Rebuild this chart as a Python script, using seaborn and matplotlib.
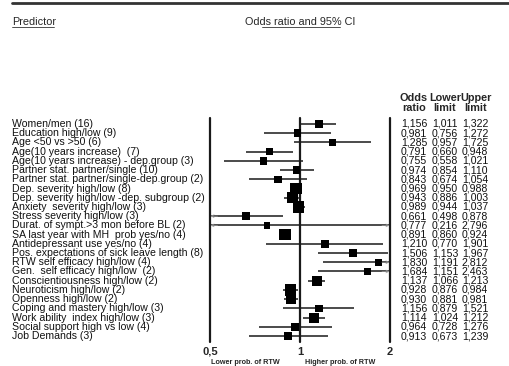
import numpy as np
import pandas as pd
import matplotlib
matplotlib.use("Agg")
import matplotlib.pyplot as plt
import matplotlib.transforms as mtransforms
import seaborn as sns

predictors = [
    "Women/men (16)",
    "Education high/low (9)",
    "Age <50 vs >50 (6)",
    "Age(10 years increase)  (7)",
    "Age(10 years increase) - dep.group (3)",
    "Partner stat. partner/single (10)",
    "Partner stat. partner/single-dep.group (2)",
    "Dep. severity high/low (8)",
    "Dep. severity high/low -dep. subgroup (2)",
    "Anxiety  severity high/low (3)",
    "Stress severity high/low (3)",
    "Durat. of sympt.>3 mon before BL (2)",
    "SA last year with MH  prob yes/no (4)",
    "Antidepressant use yes/no (4)",
    "Pos. expectations of sick leave length (8)",
    "RTW self efficacy high/low (4)",
    "Gen.  self efficacy high/low  (2)",
    "Conscientiousness high/low (2)",
    "Neuroticism high/low (2)",
    "Openness high/low (2)",
    "Coping and mastery high/low (3)",
    "Work ability  index high/low (3)",
    "Social support high vs low (4)",
    "Job Demands (3)",
]
odds_ratio = [1.156, 0.981, 1.285, 0.791, 0.755, 0.974, 0.843, 0.969, 0.943, 0.989,
              0.661, 0.777, 0.891, 1.210, 1.506, 1.830, 1.684, 1.137, 0.928, 0.930,
              1.156, 1.114, 0.964, 0.913]
lower_limit = [1.011, 0.756, 0.957, 0.660, 0.558, 0.854, 0.674, 0.950, 0.886, 0.944,
               0.498, 0.216, 0.860, 0.770, 1.153, 1.191, 1.151, 1.066, 0.876, 0.881,
               0.879, 1.024, 0.728, 0.673]
upper_limit = [1.322, 1.272, 1.725, 0.948, 1.021, 1.110, 1.054, 0.988, 1.003, 1.037,
               0.878, 2.796, 0.924, 1.901, 1.967, 2.812, 2.463, 1.213, 0.984, 0.981,
               1.521, 1.212, 1.276, 1.239]
# relative weight (square side)
weight = [6, 6, 6, 6, 6, 6, 6, 9, 9, 9, 6, 5, 9, 6, 6, 6, 6, 8, 9, 8, 6, 8, 6, 6]
tick_values = [0.5, 1, 2]
tick_labels = ["0,5", "1", "2"]

df = pd.DataFrame({"predictor": predictors, "or": odds_ratio,
                   "lo": lower_limit, "hi": upper_limit, "w": weight})
df["row"] = np.arange(len(df))
df["area"] = (df["w"] * 0.72 * 1.25) ** 2

sns.set_theme(style="white")
plt.rcParams["font.family"] = ["Liberation Sans", "DejaVu Sans"]

W, H = 509, 366
fig = plt.figure(figsize=(W / 100, H / 100), dpi=100)

def fx(px):
    return px / W

def fy(py):
    return 1 - py / H

x0, x1 = 210, 390
ytop, ybot = 118, 342
row0, rowstep = 124, (336 - 124) / 23
ax = fig.add_axes([fx(x0), fy(ybot), (x1 - x0) / W, (ybot - ytop) / H])
ax.set_xscale("log")
ax.set_xlim(0.5, 2)
ax.set_ylim((ybot - row0) / rowstep, (ytop - row0) / rowstep)
ax.axis("off")

lc = "#1a1a1a"
for v in tick_values:
    ax.axvline(v, color=lc, lw=1.6, clip_on=False)

lo_c = df["lo"].clip(lower=0.5)
hi_c = df["hi"].clip(upper=2)
ax.hlines(df["row"], lo_c, hi_c, color=lc, lw=1.1, clip_on=False)
sns.scatterplot(data=df, x="or", y="row", size="area",
                sizes=(df["area"].min(), df["area"].max()),
                marker="s", color="black", edgecolor="black", linewidth=0,
                legend=False, ax=ax, clip_on=False, zorder=3)
arrow_kw = dict(arrowstyle="->", color="#999999", lw=0.5, mutation_scale=5,
                shrinkA=0, shrinkB=0)
for _, r in df.iterrows():
    if r["lo"] < 0.5:
        ax.annotate("", xy=(0.502, r["row"]), xytext=(0.53, r["row"]),
                    arrowprops=arrow_kw, annotation_clip=False)
    if r["hi"] > 2:
        ax.annotate("", xy=(1.992, r["row"]), xytext=(1.88, r["row"]),
                    arrowprops=arrow_kw, annotation_clip=False)

fs = 7.55
trans = mtransforms.blended_transform_factory(fig.transFigure, ax.transData)
for _, r in df.iterrows():
    fig.text(fx(12), r["row"], r["predictor"], transform=trans, fontsize=fs,
             va="center", ha="left", color="#111111")
    for cx, key in [(414, "or"), (445, "lo"), (475, "hi")]:
        fig.text(fx(cx), r["row"], f"{r[key]:.3f}".replace(".", ","), transform=trans,
                 fontsize=7.6, va="center", ha="center", color="#111111")

for cx, t1, t2 in [(414, "Odds", "ratio"), (445, "Lower", "limit"), (476, "Upper", "limit")]:
    fig.text(fx(cx), fy(98), t1, fontsize=7.8, fontweight="bold", ha="center", va="center")
    fig.text(fx(cx), fy(108), t2, fontsize=7.8, fontweight="bold", ha="center", va="center")

# header
fig.add_artist(plt.Line2D([fx(12), fx(509)], [fy(3), fy(3)], color="#333333", lw=2.0))
fig.text(fx(12), fy(22), "Predictor", fontsize=7.8, ha="left", va="center")
fig.add_artist(plt.Line2D([fx(12), fx(54)], [fy(27), fy(27)], color="#333333", lw=0.6))
fig.text(fx(245), fy(22), "Odds ratio and 95% CI", fontsize=7.8, ha="left", va="center")
fig.add_artist(plt.Line2D([fx(262), fx(340)], [fy(27), fy(27)], color="#333333", lw=0.6))

for v, t in zip(tick_values, tick_labels):
    xp = x0 + (x1 - x0) * np.log2(v / 0.5) / 2
    fig.text(fx(xp), fy(352), t, fontsize=8, fontweight="bold", ha="center", va="center")
fig.text(fx(245), fy(362), "Lower prob. of RTW", fontsize=5.2, fontweight="bold",
         ha="center", va="center")
fig.text(fx(340), fy(362), "Higher prob. of RTW", fontsize=5.2, fontweight="bold",
         ha="center", va="center")

fig.savefig("out.png", dpi=100)
